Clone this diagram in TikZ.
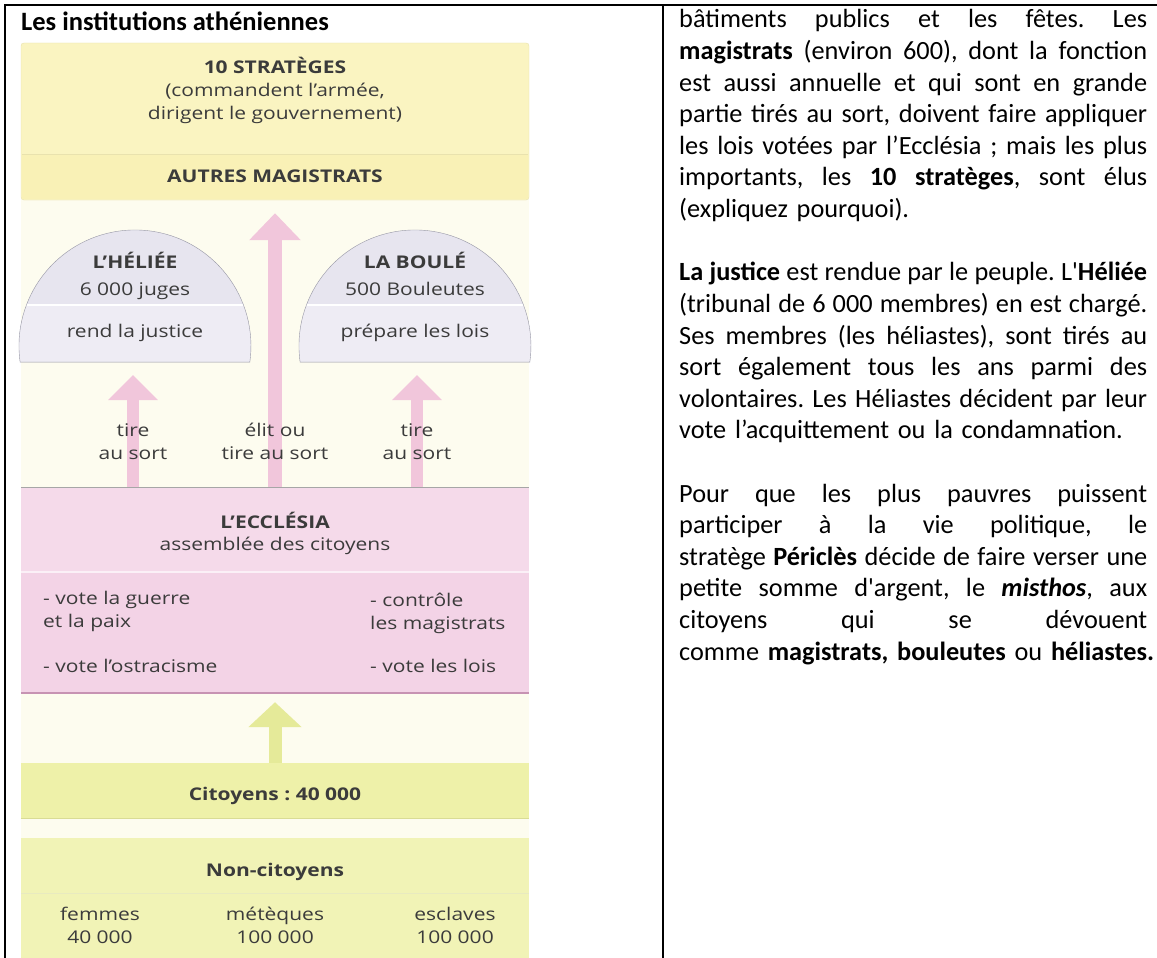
\documentclass[tikz,border=0pt]{standalone}
\usepackage{fontspec}
\setmainfont{Carlito}
\newfontfamily\schema[FakeStretch=1.2]{Open Sans}
\usetikzlibrary{arrows.meta}

\definecolor{fond}{HTML}{FDFCEF}
\definecolor{jaune}{HTML}{FAF4C1}
\definecolor{jaunebande}{HTML}{F9F1B6}
\definecolor{jaunebord}{HTML}{E9E2AE}
\definecolor{dome}{HTML}{E7E5EF}
\definecolor{domebande}{HTML}{EEECF4}
\definecolor{domebord}{HTML}{9696A4}
\definecolor{rose}{HTML}{F1C6DB}
\definecolor{eccl}{HTML}{F5DAEA}
\definecolor{ecclbande}{HTML}{F3D3E6}
\definecolor{ecclbord}{HTML}{C793B3}
\definecolor{vert}{HTML}{E5EA99}
\definecolor{citoyen}{HTML}{EEF1A9}
\definecolor{citbord}{HTML}{D9DC95}
\definecolor{noncit}{HTML}{F1F3B6}
\definecolor{encre}{HTML}{3B3B3B}

% une ligne justifiee, une ligne libre
\newcommand\lj[1]{\hbox to 468pt{\spaceskip=0pt\xspaceskip=0pt\relax #1}}
\newcommand\lf[1]{\hbox{#1}}

\begin{document}
\frenchspacing
\begin{tikzpicture}[x=1pt, y=-1pt,
    panel/.style={inner sep=0pt, minimum width=508pt},
    lbl/.style={anchor=base, inner sep=0pt, align=center, text=encre,
      font=\schema\fontsize{17.5}{22.5}\selectfont},
    lblb/.style={lbl, font=\schema\bfseries\fontsize{17.5}{22.5}\selectfont},
    fleche/.style={line width=14pt, shorten >=13pt, -{Triangle[width=50pt, length=27pt]}},
    flechette/.style={line width=12pt, shorten >=13pt, -{Triangle[width=48pt, length=25pt]}},
    para/.style={anchor=base west, inner sep=0pt, text width=468pt,
      font=\fontsize{26.3}{31.6}\selectfont}]
  \useasboundingbox (0,0) rectangle (1157,958);

  % cadre du tableau
  \draw[line width=2pt] (5,958) -- (5,5) -- (1157,5);
  \draw[line width=2pt] (663,5) -- (663,958);

  \node[anchor=base west, inner sep=0pt, font=\bfseries\fontsize{26.5}{32}\selectfont] (titre) at (21,31) {Les institutions athéniennes};

  % fond du schema
  \fill[fond] (21,43) rectangle (529,958);

  % magistrats
  \node[panel, minimum height=157pt, fill=jaune, draw=jaunebord, rounded corners=3pt] (magis) at (275,121.5) {};
  \fill[jaunebande] (22,154) rectangle (528,199);
  \draw[jaunebord] (22,154) -- (528,154);

  % heliee et boule
  \foreach \cx in {135,415} {
    \begin{scope}
      \clip (\cx-114.9,362.1) arc[start angle=172, end angle=368, radius=116] -- cycle;
      \fill[dome] (\cx-120,220) rectangle (\cx+120,305);
      \fill[domebande] (\cx-120,305) rectangle (\cx+120,365);
      \draw[white, line width=1.5pt] (\cx-120,305) -- (\cx+120,305);
    \end{scope}
    \draw[domebord] (\cx-114.9,362.1) arc[start angle=172, end angle=368, radius=116] -- cycle;
  }
  \coordinate (pied-heliee) at (133,362);
  \coordinate (pied-boule) at (417,362);

  % ecclesia
  \node[panel, minimum height=206pt, fill=eccl] (ecclesia) at (275,590) {};
  \fill[ecclbande] (21,572) rectangle (529,692);
  \draw[white!60!eccl, line width=1.5pt] (21,572) -- (529,572);
  \draw[gray!70] (ecclesia.north west) -- (ecclesia.north east);
  \draw[ecclbord, line width=2pt] (ecclesia.south west) -- (ecclesia.south east);

  % citoyens
  \node[panel, minimum height=55pt, fill=citoyen] (citoyens) at (275,790.5) {};
  \draw[citbord, line width=1.2pt] (citoyens.south west) -- (citoyens.south east);
  \node[panel, minimum height=120pt, fill=noncit] (noncit) at (275,898) {};
  \draw[citbord!60] (21,893) -- (529,893);

  % fleches
  \draw[fleche, rose] (ecclesia.north) -- (magis.south);
  \draw[flechette, rose] (ecclesia.north -| pied-heliee) -- (pied-heliee);
  \draw[flechette, rose] (ecclesia.north -| pied-boule) -- (pied-boule);
  \draw[fleche, vert, line width=13pt, shorten >=9pt, -{Triangle[width=52pt, length=25pt]}] (citoyens.north) -- (ecclesia.south);

  % textes du schema (base = derniere ligne)
  \node[lblb] (strat) at (275,74) {10 STRATÈGES};
  \node[lbl] (strat-role) at (275,119) {(commandent l’armée,\\dirigent le gouvernement)};
  \node[lblb] (autres) at (275,182) {AUTRES MAGISTRATS};
  \node[lblb] (heliee) at (135,268) {L’HÉLIÉE};
  \node[lbl] (heliee-nb) at (135,295) {6~000 juges};
  \node[lbl] (heliee-role) at (135,337) {rend la justice};
  \node[lblb] (boule) at (415,268) {LA BOULÉ};
  \node[lbl] (boule-nb) at (415,295) {500 Bouleutes};
  \node[lbl] (boule-role) at (415,337) {prépare les lois};
  \node[lbl] (tirage-h) at (133,459) {tire\\au sort};
  \node[lbl] (election) at (275,459) {élit ou\\tire au sort};
  \node[lbl] (tirage-b) at (417,459) {tire\\au sort};
  \node[lblb] (eccl-titre) at (275,528) {L’ECCLÉSIA};
  \node[lbl] (eccl-def) at (275,550) {assemblée des citoyens};
  \node[lbl, anchor=base west, align=left] (guerre) at (43,627) {- vote la guerre\\et la paix};
  \node[lbl, anchor=base west, align=left] (ostracisme) at (43,672) {- vote l’ostracisme};
  \node[lbl, anchor=base west, align=left] (controle) at (370,629) {- contrôle\\les magistrats};
  \node[lbl, anchor=base west, align=left] (lois) at (370,672) {- vote les lois};
  \node[lblb] (cit-txt) at (275,800) {Citoyens : 40~000};
  \node[lblb] (noncit-txt) at (275,876) {Non-citoyens};
  \node[lbl] (femmes) at (100,943) {femmes\\40~000};
  \node[lbl] (meteques) at (275,943) {métèques\\100~000};
  \node[lbl] (esclaves) at (455,943) {esclaves\\100~000};

  % colonne de droite
  \node[para] (p1) at (679,28) {\lj{bâtiments publics et les fêtes. Les}
    \lj{\textbf{magistrats} (environ 600), dont la fonction}
    \lj{est aussi annuelle et qui sont en grande}
    \lj{partie tirés au sort, doivent faire appliquer}
    \lj{les lois votées par l’Ecclésia ; mais les plus}
    \lj{importants, les \textbf{10 stratèges}, sont élus}
    \lf{(expliquez pourquoi).}};
  \node[para] (p2) at (679,280.8) {\lj{\textbf{La justice} est rendue par le peuple. L\textquotesingle\textbf{Héliée}}
    \lj{(tribunal de 6~000 membres) en est chargé.}
    \lj{Ses membres (les héliastes), sont tirés au}
    \lj{sort également tous les ans parmi des}
    \lj{volontaires. Les Héliastes décident par leur}
    \lf{vote l’acquittement ou la condamnation.}};
  \node[para] (p3) at (679,502) {\lj{Pour que les plus pauvres puissent}
    \lj{participer à la vie politique, le}
    \lj{stratège \textbf{Périclès} décide de faire verser une}
    \lj{petite somme d\textquotesingle argent, le \textbf{\textit{misthos}}, aux}
    \lj{citoyens qui se dévouent}
    \lf{comme \textbf{magistrats, bouleutes} ou \textbf{héliastes.}}};
\end{tikzpicture}
\end{document}
